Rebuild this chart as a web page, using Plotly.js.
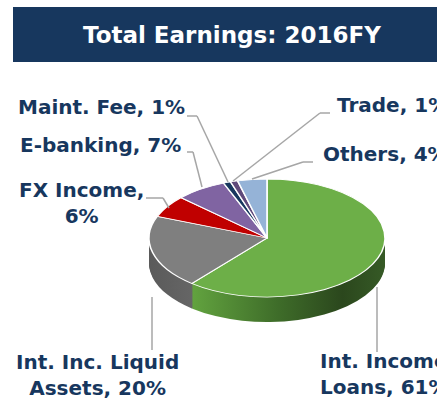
<!DOCTYPE html>
<html><head><meta charset="utf-8">
<script src="https://cdn.plot.ly/plotly-3.0.1.min.js"></script>
<style>html,body{margin:0;padding:0;background:#fff}#chart{width:437px;height:405px}</style>
</head><body><div id="chart"></div>
<script>
// ---- data ----
const categories = ['Int. Income Loans', 'Int. Inc. Liquid Assets', 'FX Income', 'E-banking', 'Maint. Fee', 'Trade', 'Others'];
const values = [61, 20, 6, 7, 1, 1, 4];
const labelLines = ['Int. Income<br>Loans', 'Int. Inc. Liquid<br>Assets', 'FX Income', 'E-banking', 'Maint. Fee', 'Trade', 'Others'];
const labelSep = [', ', ', ', ',<br>', ', ', ', ', ', ', ', '];
const chartTitle = 'Total Earnings: 2016FY';

// ---- style ----
const W = 437, H = 405;
const px = x => x / W, py = y => 1 - y / H;
const topColors = ['#6DAF48', '#7F7F7F', '#C00000', '#8064A2', '#17375E', '#5F497A', '#95B3D7'];
const sideColors = ['#3F6E2A', '#5E5E5E', '#8A0000', '#5B4775', '#10263F', '#433357', '#6A80A0'];
const navy = '#17375E';
const cxp = 267, cyp = 238, R = 118, squash = 0.5, depth = 25;
const dom = {x: [px(cxp - R), px(cxp + R)], y: [py(cyp + R), py(cyp - R)]};

const data = [];
const offsets = [];
for (let d = depth; d >= 1; d -= 1) offsets.push(d);
offsets.forEach(() => data.push({
  type: 'pie', labels: categories, values: values, sort: false, direction: 'clockwise', rotation: 0,
  textinfo: 'none', hoverinfo: 'skip', showlegend: false, domain: dom,
  marker: {colors: sideColors, line: {width: 0}}
}));
data.push({
  type: 'pie', labels: categories, values: values, sort: false, direction: 'clockwise', rotation: 0,
  textinfo: 'none', hoverinfo: 'skip', showlegend: false, domain: dom,
  marker: {colors: topColors, line: {color: '#ffffff', width: 1.6}}
});

const F = 'DejaVu Sans, sans-serif';
const lab = (i) => labelLines[i] + labelSep[i] + values[i] + '%';
const labelPos = [
  {x: 318, y: 374, xa: 'left'},
  {x: 97, y: 375, xa: 'center'},
  {x: 81, y: 203, xa: 'center'},
  {x: 100, y: 145, xa: 'center'},
  {x: 101, y: 107, xa: 'center'},
  {x: 335, y: 105, xa: 'left'},
  {x: 321, y: 154, xa: 'left'}
];
const annotations = labelPos.map((p, i) => ({
  xref: 'paper', yref: 'paper', x: px(p.x), y: py(p.y), xanchor: p.xa, yanchor: 'middle',
  text: '<b>' + lab(i) + '</b>', showarrow: false, align: p.xa === 'left' ? 'left' : 'center',
  font: {family: F, size: 20, color: navy}
}));
annotations.push({
  xref: 'paper', yref: 'paper', x: px(232), y: py(35), xanchor: 'center', yanchor: 'middle',
  text: '<b>' + chartTitle + '</b>', showarrow: false, font: {family: F, size: 23, color: '#ffffff'}
});

const leaders = [
  [[377, 287], [377, 352]],
  [[152, 297], [152, 350]],
  [[146, 198], [163, 198], [169, 208]],
  [[187, 152], [193, 152], [202, 187]],
  [[187, 116], [197, 116], [228, 182]],
  [[330, 113], [320, 113], [233, 181]],
  [[313, 162], [303, 162], [252, 179]]
];
const shapes = [{type: 'rect', xref: 'paper', yref: 'paper', x0: px(13), x1: px(437), y0: py(62), y1: py(7),
  fillcolor: '#17375E', line: {width: 0}, layer: 'below'}];
leaders.forEach(pts => {
  for (let k = 0; k < pts.length - 1; k++) shapes.push({type: 'line', xref: 'paper', yref: 'paper',
    x0: px(pts[k][0]), y0: py(pts[k][1]), x1: px(pts[k + 1][0]), y1: py(pts[k + 1][1]),
    line: {color: '#A6A6A6', width: 1.5}});
});

const layout = {width: W, height: H, margin: {l: 0, r: 0, t: 0, b: 0}, paper_bgcolor: '#ffffff',
  showlegend: false, annotations: annotations, shapes: shapes, hovermode: false};

Plotly.newPlot('chart', data, layout, {staticPlot: true, displayModeBar: false}).then(gd => {
  const svg = gd.querySelector('.main-svg');
  const ns = 'http://www.w3.org/2000/svg';
  const defs = document.createElementNS(ns, 'defs');
  defs.innerHTML =
    '<linearGradient id="gSide" x1="0" x2="1" y1="0" y2="0">' +
    '<stop offset="0" stop-color="#62A33F"/><stop offset="0.45" stop-color="#3E6C29"/>' +
    '<stop offset="0.78" stop-color="#2B471D"/><stop offset="1" stop-color="#365A26"/></linearGradient>' +
    '<linearGradient id="gGray" x1="0" x2="1" y1="0" y2="0">' +
    '<stop offset="0" stop-color="#5A5A5A"/><stop offset="0.5" stop-color="#6A6A6A"/><stop offset="1" stop-color="#7A7A7A"/></linearGradient>';
  svg.insertBefore(defs, svg.firstChild);
  const traces = gd.querySelectorAll('.pielayer .trace');
  traces.forEach((t, i) => {
    const d = i < offsets.length ? offsets[i] : 0;
    t.setAttribute('transform', 'translate(0,' + (cyp * (1 - squash) + d) + ') scale(1,' + squash + ')');
    if (i < offsets.length) {
      const paths = t.querySelectorAll('path.surface');
      if (paths[0]) paths[0].style.fill = 'url(#gSide)';
      if (paths[1]) paths[1].style.fill = 'url(#gGray)';
    }
  });
});
</script></body></html>
